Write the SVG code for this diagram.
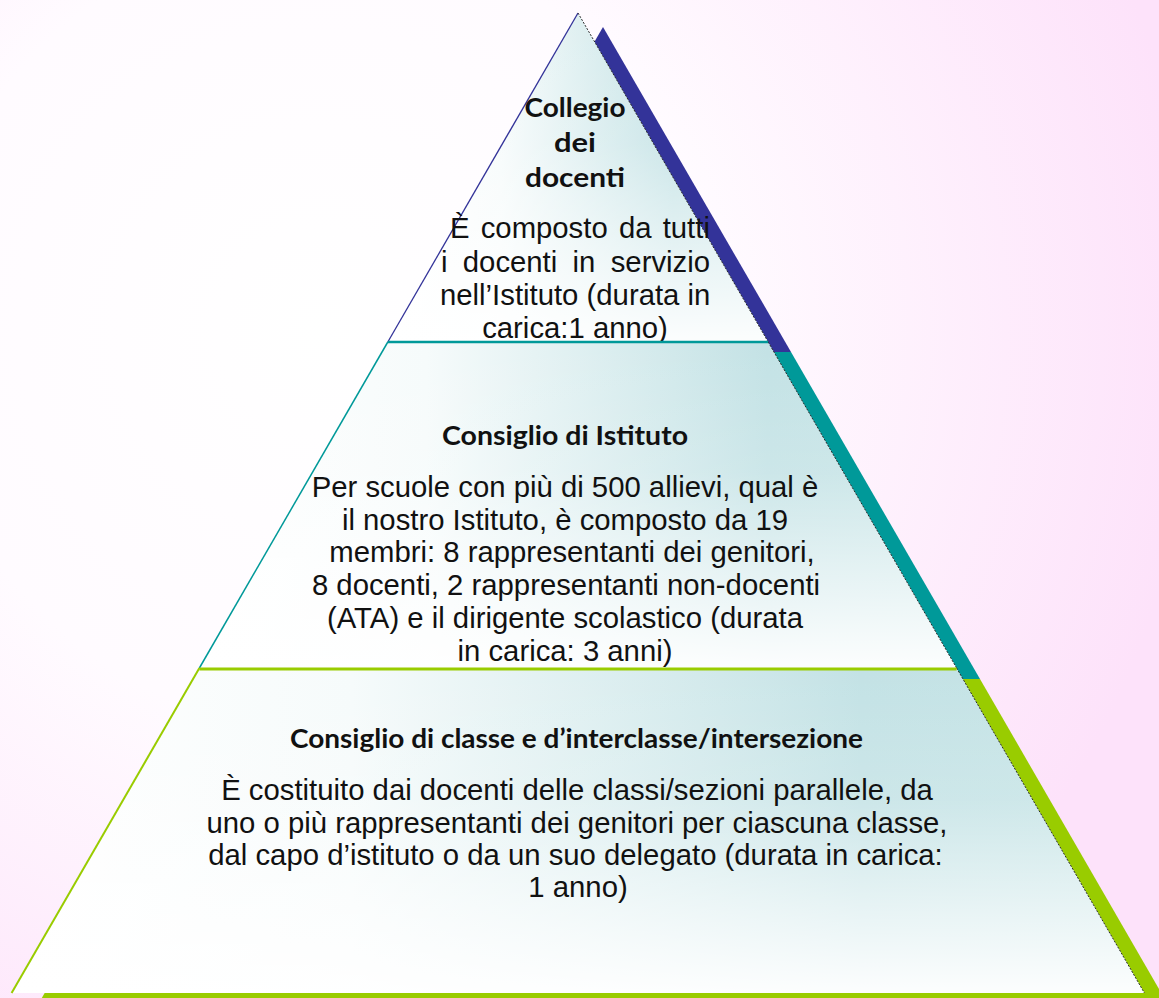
<svg xmlns="http://www.w3.org/2000/svg" width="1159" height="998" viewBox="0 0 1159 998">
  <defs>
    <radialGradient id="bg" gradientUnits="userSpaceOnUse" cx="320" cy="330" r="880">
      <stop offset="0" stop-color="#ffffff"/>
      <stop offset="0.45" stop-color="#fffbff"/>
      <stop offset="1" stop-color="#fde2fa"/>
    </radialGradient>
    <linearGradient id="tierH" x1="0" y1="0" x2="1" y2="0">
      <stop offset="0" stop-color="#ffffff"/>
      <stop offset="0.3" stop-color="#f6fbfb"/>
      <stop offset="0.75" stop-color="#c3e2e5"/>
      <stop offset="1" stop-color="#c6e4e6"/>
    </linearGradient>
    <linearGradient id="tierV" x1="0" y1="0" x2="0" y2="1">
      <stop offset="0" stop-color="#ffffff" stop-opacity="0"/>
      <stop offset="0.4" stop-color="#ffffff" stop-opacity="0.15"/>
      <stop offset="1" stop-color="#ffffff" stop-opacity="0.95"/>
    </linearGradient>
    <style>
      .title { font-family: Lato, "Liberation Sans", sans-serif; font-weight: 700; font-size: 27px; fill: #111111; text-anchor: middle; }
      .body { font-family: "Liberation Sans", Arial, sans-serif; font-size: 29.3px; fill: #111111; }
      .mid { text-anchor: middle; }
      .fillH { fill: url(#tierH); }
      .fillV { fill: url(#tierV); }
      .rightEdge { stroke: #2b2b2b; stroke-width: 1; stroke-dasharray: 2 1.5; fill: none; }
    </style>
  </defs>

  <rect x="0" y="0" width="1159" height="998" fill="url(#bg)"/>

  <g id="pyramid-sides">
    <polygon points="603,27 791,352 415,352" fill="#333399"/>
    <polygon points="415,352 791,352 980,679 226,679" fill="#009999"/>
    <polygon points="226,679 980,679 1170,1008 36,1008" fill="#99cc00"/>
  </g>

  <g id="tier-collegio">
    <polygon class="fillH" points="578,13 768.2,342 387.8,342"/>
    <polygon class="fillV" points="578,13 768.2,342 387.8,342"/>
    <line x1="578" y1="13" x2="387.8" y2="342" stroke="#333399" stroke-width="1.3"/>
    <line class="rightEdge" x1="578" y1="13" x2="768.2" y2="342"/>
    <text class="title" x="575" y="117" textLength="101" lengthAdjust="spacingAndGlyphs">Collegio</text>
    <text class="title" x="575" y="152" textLength="42" lengthAdjust="spacingAndGlyphs">dei</text>
    <text class="title" x="575" y="187" textLength="100" lengthAdjust="spacingAndGlyphs">docenti</text>
    <text class="body" y="238"><tspan x="450">È </tspan><tspan x="480.7">composto </tspan><tspan x="618.9">da </tspan><tspan x="662.7">tutti</tspan></text>
    <text class="body" y="271.7"><tspan x="441">i </tspan><tspan x="462.8">docenti </tspan><tspan x="572.6">in </tspan><tspan x="610.7">servizio</tspan></text>
    <text class="body" x="440" y="305">nell’Istituto (durata in</text>
    <text class="body mid" x="575" y="337.5">carica:1 anno)</text>
  </g>

  <g id="tier-istituto">
    <polygon class="fillH" points="387.8,342 768.2,342 956.6,668 199.4,668"/>
    <polygon class="fillV" points="387.8,342 768.2,342 956.6,668 199.4,668"/>
    <line x1="387.8" y1="342" x2="199.4" y2="668" stroke="#009999" stroke-width="1.5"/>
    <line class="rightEdge" x1="768.2" y1="342" x2="956.6" y2="668"/>
    <line x1="387.8" y1="342" x2="768.2" y2="342" stroke="#009999" stroke-width="2.5"/>
    <text class="title" x="565" y="445" textLength="246" lengthAdjust="spacingAndGlyphs">Consiglio di Istituto</text>
    <text class="body mid" x="565" y="497">Per scuole con più di 500 allievi, qual è</text>
    <text class="body mid" x="565" y="529.7">il nostro Istituto, è composto da 19</text>
    <text class="body mid" x="572" y="562.4">membri: 8 rappresentanti dei genitori,</text>
    <text class="body mid" x="566" y="595">8 docenti, 2 rappresentanti non-docenti</text>
    <text class="body mid" x="565" y="627.8">(ATA) e il dirigente scolastico (durata</text>
    <text class="body mid" x="565" y="660.5">in carica: 3 anni)</text>
  </g>

  <g id="tier-classe">
    <polygon class="fillH" points="199.4,668 956.6,668 1144.4,993 11.6,993"/>
    <polygon class="fillV" points="199.4,668 956.6,668 1144.4,993 11.6,993"/>
    <line x1="199.4" y1="668" x2="11.6" y2="993" stroke="#99cc00" stroke-width="2"/>
    <line class="rightEdge" x1="956.6" y1="668" x2="1144.4" y2="993"/>
    <line x1="199.4" y1="669" x2="956.6" y2="669" stroke="#99cc00" stroke-width="3"/>
    <text class="title" x="576.5" y="748" textLength="573" lengthAdjust="spacingAndGlyphs">Consiglio di classe e d’interclasse/intersezione</text>
    <text class="body mid" x="577" y="800">È costituito dai docenti delle classi/sezioni parallele, da</text>
    <text class="body mid" x="577" y="832.5">uno o più rappresentanti dei genitori per ciascuna classe,</text>
    <text class="body mid" x="575.5" y="865">dal capo d’istituto o da un suo delegato (durata in carica:</text>
    <text class="body mid" x="578" y="897">1 anno)</text>
  </g>
</svg>
